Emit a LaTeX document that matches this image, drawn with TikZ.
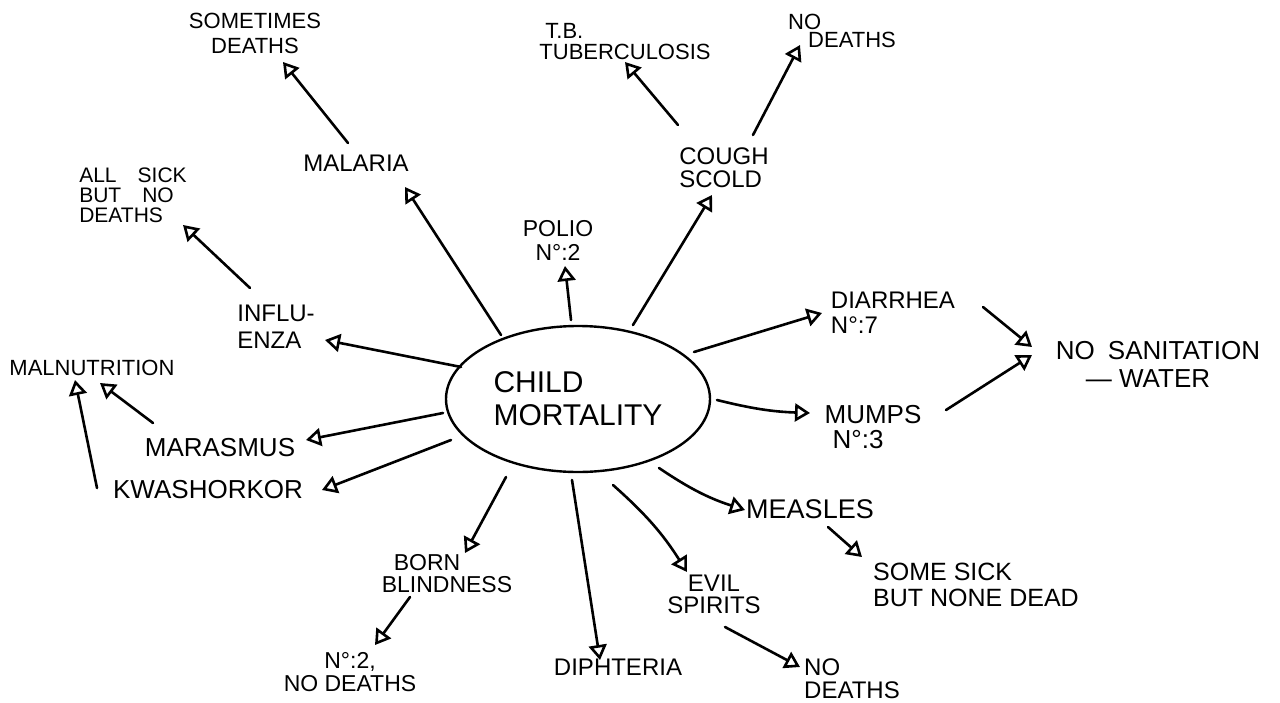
\documentclass[tikz,border=0pt]{standalone}
\usepackage{fontspec}
\setmainfont{Liberation Sans}
\usetikzlibrary{shapes.geometric,arrows.meta,calc}
\begin{document}
\begin{tikzpicture}[x=0.5pt,y=-0.5pt,
  ink/.style={line width=1.3pt, line cap=round},
  arr/.style={ink, -{Triangle[open,length=7.5pt,width=9pt,line width=1.3pt]}},
  lbl/.style={inner sep=1pt, align=center, font=\fontsize{12}{12.5}\selectfont},
  lbll/.style={lbl, align=left}
]
\useasboundingbox (0,0) rectangle (1280,702);

% central topic
\node[draw, ellipse, line width=1.2pt, minimum width=132pt, minimum height=73pt,
      inner sep=1pt, align=left, font=\fontsize{15}{16.5}\selectfont] (cm) at (578,399)
      {CHILD\\MORTALITY};

% first ring of causes
\node[lbl] (malaria) at (356,163) {MALARIA};
\node[lbll, font=\fontsize{12}{13.5}\selectfont] (influenza) at (276,327) {INFLU-\\ENZA};
\node[lbl, font=\fontsize{11.5}{12}\selectfont] (polio) at (558,240) {POLIO\\N°:2};
\node[lbll, font=\fontsize{12}{11.5}\selectfont] (cough) at (724,168) {COUGH\\SCOLD};
\node[lbll] (diarrhea) at (893,313) {DIARRHEA\\N°:7};
\node[lbll, font=\fontsize{13}{12.5}\selectfont] (mumps) at (873,427) {MUMPS\\\hspace*{4pt}N°:3};
\node[lbl, font=\fontsize{13.5}{14}\selectfont] (measles) at (810,509) {MEASLES};
\node[lbl, font=\fontsize{12}{11}\selectfont] (evil) at (714,594) {EVIL\\SPIRITS};
\node[lbl] (diph) at (618,667) {DIPHTERIA};
\node[lbll, font=\fontsize{11.5}{11}\selectfont] (born) at (447,574) {\hspace*{6pt}BORN\\BLINDNESS};
\node[lbl, font=\fontsize{13}{14}\selectfont] (marasmus) at (220,448) {MARASMUS};
\node[lbl, font=\fontsize{13}{14}\selectfont] (kwash) at (208,490) {KWASHORKOR};

% outcomes and further links
\node[lbl, font=\fontsize{11}{12.5}\selectfont] (sometimes) at (255,33) {SOMETIMES\\DEATHS};
\node[lbll, font=\fontsize{10.5}{10}\selectfont] (allsick) at (133,195) {ALL\quad SICK\\BUT\quad NO\\DEATHS};
\node[lbll, font=\fontsize{11}{10.5}\selectfont] (tb) at (625,42) {\hspace*{3pt}T.B.\\TUBERCULOSIS};
\node[lbll, font=\fontsize{11}{9}\selectfont] (nd1) at (842,31) {NO\\\hspace*{10pt}DEATHS};
\node[lbll, font=\fontsize{13}{14}\selectfont] (sanit) at (1158,364) {NO\enspace SANITATION\\\hspace*{15pt}— WATER};
\node[lbll, font=\fontsize{12.5}{13}\selectfont] (somesick) at (976,585) {SOME SICK\\BUT NONE DEAD};
\node[lbll, font=\fontsize{12}{11.5}\selectfont] (nd2) at (852,679) {NO\\DEATHS};
\node[lbl, font=\fontsize{11.5}{11.5}\selectfont] (n2) at (350,672) {N°:2,\\NO DEATHS};
\node[lbl, font=\fontsize{11}{12}\selectfont] (malnut) at (92,368) {MALNUTRITION};

% connectors from the centre
\draw[arr] ($(cm)+(-77,-64)$) -- ($(malaria)+(49,24)$);
\draw[arr] ($(cm)+(-117,-32)$) -- ($(influenza)+(49,13)$);
\draw[arr] ($(cm)+(-7,-79)$) -- ($(polio)+(7,26)$);
\draw[arr] ($(cm)+(55,-74)$) -- ($(cough)+(-12,27)$);
\draw[arr] ($(cm)+(116,-47)$) -- ($(diarrhea)+(-71,0)$);
\draw[arr] ($(cm)+(139,1)$) to[bend right=6] ($(mumps)+(-63,-14)$);
\draw[arr] ($(cm)+(81,69)$) to[bend right=8] ($(measles)+(-65,1)$);
\draw[arr] ($(cm)+(35,86)$) to[bend left=8] ($(evil)+(-27,-22)$);
\draw[arr] ($(cm)+(-6,81)$) -- ($(diph)+(-18,-7)$);
\draw[arr] ($(cm)+(-72,78)$) -- ($(born)+(18,-21)$);
\draw[arr] ($(cm)+(-135,14)$) -- ($(marasmus)+(86,-8)$);
\draw[arr] ($(cm)+(-127,41)$) -- ($(kwash)+(114,0)$);

% second-level connectors
\draw[arr] ($(malaria)+(-8,-20)$) -- ($(sometimes)+(28,29)$);
\draw[arr] ($(influenza)+(-26,-39)$) -- ($(allsick)+(50,30)$);
\draw[arr] ($(cough)+(-46,-43)$) -- ($(tb)+(0,20)$);
\draw[arr] ($(cough)+(29,-33)$) -- ($(nd1)+(-42,14)$);
\draw[arr] ($(diarrhea)+(90,-6)$) -- ($(sanit)+(-126,-17)$);
\draw[arr] ($(mumps)+(73,-17)$) -- ($(sanit)+(-126,-9)$);
\draw[arr] ($(measles)+(18,18)$) -- ($(somesick)+(-114,-28)$);
\draw[arr] ($(evil)+(11,33)$) -- ($(nd2)+(-52,-12)$);
\draw[arr] ($(born)+(-37,23)$) -- ($(n2)+(25,-27)$);
\draw[arr] ($(marasmus)+(-67,-25)$) -- ($(malnut)+(8,15)$);
\draw[arr] ($(kwash)+(-111,-2)$) -- ($(malnut)+(-17,12)$);
\end{tikzpicture}
\end{document}
